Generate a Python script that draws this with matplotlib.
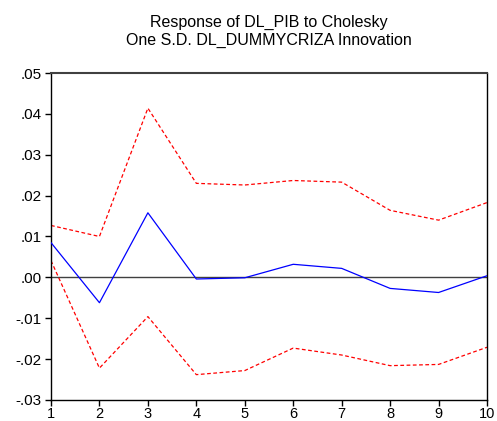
import numpy as np
import matplotlib.pyplot as plt

plt.rcParams['font.family'] = ['Liberation Sans', 'DejaVu Sans']

# impulse response values
periods = np.arange(1, 11)
response = [0.0085, -0.0062, 0.0158, -0.0004, -0.0001, 0.0032, 0.0022, -0.0027, -0.0037, 0.0004]
upper = [0.0127, 0.0100, 0.0414, 0.0230, 0.0226, 0.0237, 0.0233, 0.0164, 0.0140, 0.0183]
lower = [0.0041, -0.0222, -0.0096, -0.0238, -0.0228, -0.0173, -0.0190, -0.0216, -0.0213, -0.0171]
yticks = [-0.03, -0.02, -0.01, 0.0, 0.01, 0.02, 0.03, 0.04, 0.05]
ytick_labels = ['-.03', '-.02', '-.01', '.00', '.01', '.02', '.03', '.04', '.05']

fig = plt.figure(figsize=(4.97, 4.21), dpi=100)
ax = fig.add_axes([0.1026, 0.0499, 0.8773, 0.7767])

ax.axhline(0, color='#404040', lw=1.0, zorder=1)
ax.plot(periods, upper, color='red', lw=0.9, ls=(0, (3, 2)), zorder=2)
ax.plot(periods, lower, color='red', lw=0.9, ls=(0, (3, 2)), zorder=2)
ax.plot(periods, response, color='blue', lw=0.9, zorder=3)

ax.set_xlim(1, 10)
ax.set_ylim(-0.03, 0.05)
ax.set_xticks(periods)
ax.set_yticks(yticks)
ax.set_yticklabels(ytick_labels)
ax.tick_params(axis='y', labelsize=11, length=4, width=1, pad=3, color='black')
ax.tick_params(axis='x', labelsize=10.5, length=4, width=1, pad=1, color='black')
for s in ax.spines.values():
    s.set_linewidth(1.0)
ax.spines['top'].set_color('#404040')
ax.spines['top'].set_linewidth(1.5)

fig.text(0.541, 0.947, 'Response of DL_PIB to Cholesky', ha='center', va='center', fontsize=11.5)
fig.text(0.541, 0.905, 'One S.D. DL_DUMMYCRIZA Innovation', ha='center', va='center', fontsize=11.5)

fig.savefig('out.png', dpi=100)
